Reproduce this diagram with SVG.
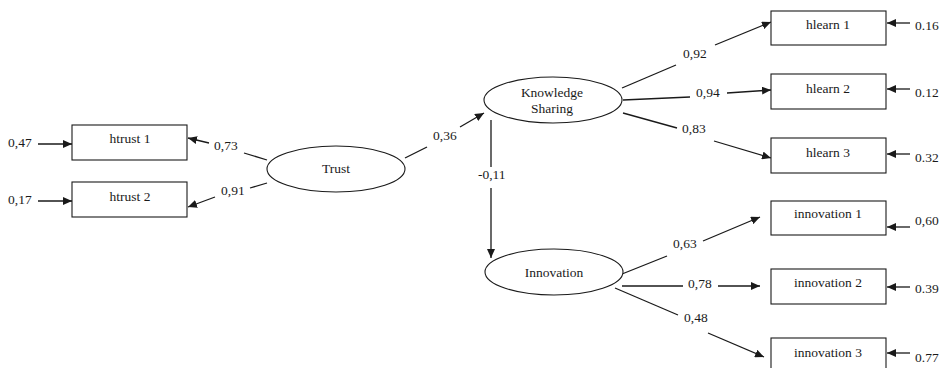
<svg xmlns="http://www.w3.org/2000/svg" width="952" height="368" viewBox="0 0 952 368" font-family="'Liberation Serif', 'Times New Roman', 'DejaVu Serif', serif">
<style>
text{font-family:'Liberation Serif','Times New Roman','DejaVu Serif',serif;font-size:13.5px;fill:#1a1a1a}
.c{text-anchor:middle}
.box{fill:#fff;stroke:#1a1a1a;stroke-width:1.1}
.ell{fill:#fff;stroke:#1a1a1a;stroke-width:1.1}
.ln{stroke:#1a1a1a;stroke-width:1.3;fill:none}
.ar{stroke:#1a1a1a;stroke-width:1.3;fill:none;marker-end:url(#ah)}
</style>
<defs>
<marker id="ah" markerUnits="userSpaceOnUse" markerWidth="10" markerHeight="8" refX="9" refY="4" orient="auto">
<path d="M0,0 L9,4 L0,8 z" fill="#1a1a1a"/>
</marker>
</defs>
<rect width="952" height="368" fill="#fff"/>
<g id="connectors">
<line class="ar" x1="38" y1="144" x2="72" y2="144"/>
<line class="ar" x1="38" y1="201" x2="72" y2="201"/>
<line class="ln" x1="267" y1="160" x2="244" y2="153"/>
<line class="ar" x1="209" y1="143" x2="188" y2="138"/>
<line class="ln" x1="267" y1="183" x2="250" y2="188"/>
<line class="ar" x1="215" y1="197" x2="188" y2="207"/>
<line class="ln" x1="405" y1="158" x2="427" y2="147"/>
<line class="ar" x1="460" y1="127" x2="484" y2="113"/>
<line class="ln" x1="491" y1="120" x2="491" y2="167"/>
<line class="ar" x1="491" y1="188" x2="491" y2="258"/>
<line class="ln" x1="622" y1="88" x2="676" y2="65"/>
<line class="ar" x1="715" y1="45" x2="771" y2="22"/>
<line class="ln" x1="623" y1="100" x2="690" y2="97"/>
<line class="ar" x1="727" y1="93" x2="771" y2="90"/>
<line class="ln" x1="623" y1="113" x2="677" y2="128"/>
<line class="ar" x1="714" y1="141" x2="771" y2="158"/>
<line class="ln" x1="622" y1="274" x2="667" y2="256"/>
<line class="ar" x1="703" y1="241" x2="760" y2="217"/>
<line class="ln" x1="622" y1="286" x2="683" y2="286"/>
<line class="ar" x1="718" y1="286" x2="760" y2="286"/>
<line class="ln" x1="615" y1="288" x2="678" y2="315"/>
<line class="ar" x1="708" y1="333" x2="764" y2="357"/>
<line class="ar" x1="910" y1="23" x2="887" y2="23"/>
<line class="ar" x1="910" y1="89" x2="887" y2="89"/>
<line class="ar" x1="910" y1="154" x2="887" y2="154"/>
<line class="ar" x1="910" y1="227" x2="887" y2="227"/>
<line class="ar" x1="910" y1="287" x2="887" y2="287"/>
<line class="ar" x1="910" y1="353" x2="887" y2="353"/>
</g>
<g id="labels">
<text x="8" y="147">0,47</text>
<text x="8" y="204">0,17</text>
<text x="214" y="150">0,73</text>
<text x="221" y="195">0,91</text>
<text x="433" y="140">0,36</text>
<text x="478" y="179">-0,11</text>
<text x="683" y="58">0,92</text>
<text x="696" y="97">0,94</text>
<text x="682" y="133">0,83</text>
<text x="673" y="248">0,63</text>
<text x="688" y="288">0,78</text>
<text x="684" y="322">0,48</text>
<text x="915" y="30">0.16</text>
<text x="915" y="97">0.12</text>
<text x="915" y="162">0.32</text>
<text x="915" y="225">0,60</text>
<text x="915" y="293">0.39</text>
<text x="915" y="362">0.77</text>
</g>
<g id="htrust1"><rect class="box" x="72" y="125" width="115" height="35"/><text class="c" x="130" y="143">htrust 1</text></g>
<g id="htrust2"><rect class="box" x="72" y="182" width="115" height="35"/><text class="c" x="130" y="201">htrust 2</text></g>
<g id="trust"><ellipse class="ell" cx="336" cy="169" rx="69" ry="23"/><text class="c" x="336" y="173">Trust</text></g>
<g id="knowledge"><ellipse class="ell" cx="553" cy="100" rx="69" ry="23"/><text class="c" x="552" y="97">Knowledge</text><text class="c" x="552" y="113">Sharing</text></g>
<g id="innovation"><ellipse class="ell" cx="554" cy="272" rx="69" ry="23"/><text class="c" x="554" y="277">Innovation</text></g>
<g id="hlearn1"><rect class="box" x="771" y="11" width="115" height="34"/><text class="c" x="828" y="29">hlearn 1</text></g>
<g id="hlearn2"><rect class="box" x="771" y="74" width="115" height="35"/><text class="c" x="828" y="93">hlearn 2</text></g>
<g id="hlearn3"><rect class="box" x="771" y="138" width="115" height="35"/><text class="c" x="828" y="157">hlearn 3</text></g>
<g id="innovation1"><rect class="box" x="771" y="201" width="115" height="34"/><text class="c" x="828" y="218">innovation 1</text></g>
<g id="innovation2"><rect class="box" x="771" y="269" width="115" height="35"/><text class="c" x="828" y="287">innovation 2</text></g>
<g id="innovation3"><rect class="box" x="771" y="338" width="115" height="35"/><text class="c" x="828" y="357">innovation 3</text></g>
</svg>
